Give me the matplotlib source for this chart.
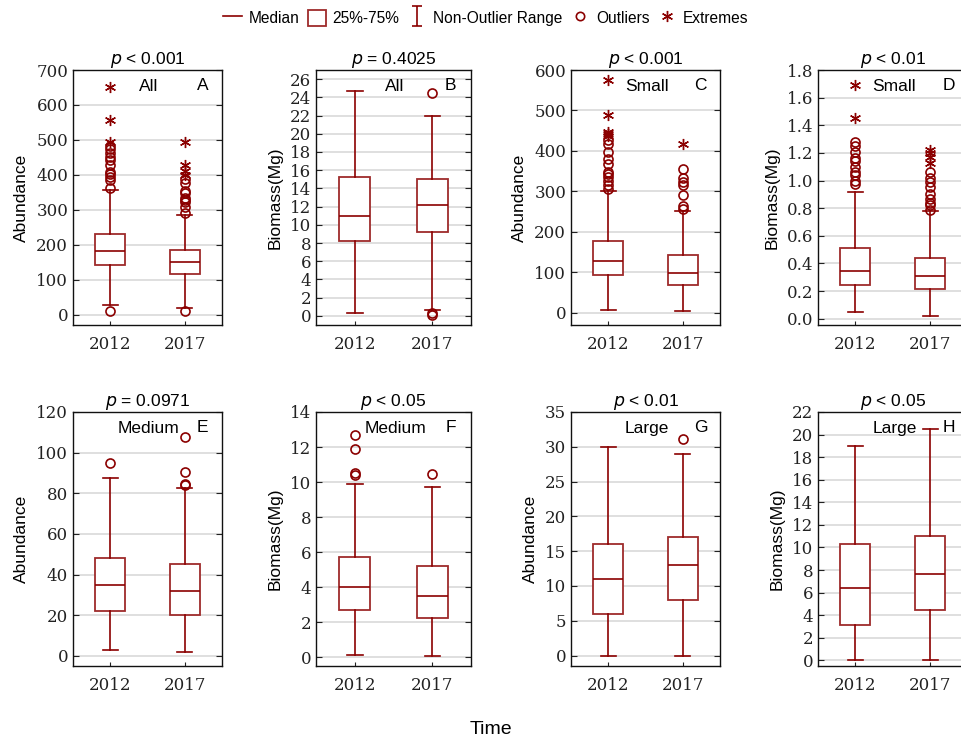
import matplotlib
matplotlib.use("Agg")
import matplotlib.pyplot as plt
from matplotlib.lines import Line2D
from matplotlib.patches import Patch
from matplotlib.path import Path
from matplotlib.ticker import FormatStrFormatter

plt.rcParams["font.family"] = ["Liberation Sans", "DejaVu Sans"]

RED = "#8b0000"
BOXRED = "#9e2b2b"
YEARS = ["2012", "2017"]

# per year: whisker low, q1, median, q3, whisker high
A_2012 = [27, 143, 181, 230, 357]
A_2017 = [19, 116, 149, 184, 284]
A_OUT = ([11, 363, 385, 395, 402, 408, 428, 443, 452, 462, 475, 482],
         [11, 292, 307, 321, 328, 335, 348, 355, 376, 388])
A_EXT = ([493, 558, 652], [398, 412, 427, 494])

B_2012 = [0.3, 8.25, 11.0, 15.3, 24.7]
B_2017 = [0.6, 9.2, 12.2, 15.0, 21.9]
B_OUT = ([], [0.1, 0.3, 24.5])
B_EXT = ([], [])

C_2012 = [7.5, 94, 128, 178, 300]
C_2017 = [4, 70, 99, 143, 252]
C_OUT = ([306, 316, 327, 335, 343, 349, 368, 381, 397, 416, 426],
         [257, 265, 290, 315, 323, 333, 356])
C_EXT = ([436, 441, 447, 490, 575], [416])

D_2012 = [0.049, 0.241, 0.348, 0.514, 0.916]
D_2017 = [0.017, 0.219, 0.307, 0.441, 0.777]
D_OUT = ([0.977, 1.0, 1.04, 1.06, 1.10, 1.14, 1.16, 1.21, 1.25, 1.28],
         [0.79, 0.82, 0.84, 0.87, 0.90, 0.95, 0.99, 1.02, 1.06])
D_EXT = ([1.45, 1.69], [1.13, 1.17, 1.20, 1.22])

E_2012 = [3.1, 22.3, 34.8, 48.1, 87.3]
E_2017 = [2.1, 20.0, 31.7, 45.1, 82.4]
E_OUT = ([94.7], [84, 84.6, 90.5, 107.7])
E_EXT = ([], [])

F_2012 = [0.1, 2.68, 4.03, 5.70, 9.9]
F_2017 = [0.06, 2.22, 3.5, 5.22, 9.69]
F_OUT = ([10.42, 10.5, 11.9, 12.7], [10.45])
F_EXT = ([], [])

G_2012 = [0, 6, 11, 16, 30]
G_2017 = [0, 8, 13, 17, 29]
G_OUT = ([], [31.1])
G_EXT = ([], [])

H_2012 = [0, 3.14, 6.45, 10.3, 19.0]
H_2017 = [0, 4.5, 7.69, 11.05, 20.5]
H_OUT = ([], [])
H_EXT = ([], [])

PANELS = [
    # stats, outliers, extremes, ylim, ytick step, ylabel, title, group, letter, fmt
    ((A_2012, A_2017), A_OUT, A_EXT, (-30, 700), 100, "Abundance", "< 0.001", "All", "A", "%d"),
    ((B_2012, B_2017), B_OUT, B_EXT, (-1, 27), 2, "Biomass(Mg)", "= 0.4025", "All", "B", "%d"),
    ((C_2012, C_2017), C_OUT, C_EXT, (-30, 600), 100, "Abundance", "< 0.001", "Small", "C", "%d"),
    ((D_2012, D_2017), D_OUT, D_EXT, (-0.045, 1.8), 0.2, "Biomass(Mg)", "< 0.01", "Small", "D", "%.1f"),
    ((E_2012, E_2017), E_OUT, E_EXT, (-5, 120), 20, "Abundance", "= 0.0971", "Medium", "E", "%d"),
    ((F_2012, F_2017), F_OUT, F_EXT, (-0.5, 14), 2, "Biomass(Mg)", "< 0.05", "Medium", "F", "%d"),
    ((G_2012, G_2017), G_OUT, G_EXT, (-1.5, 35), 5, "Abundance", "< 0.01", "Large", "G", "%d"),
    ((H_2012, H_2017), H_OUT, H_EXT, (-0.5, 22), 2, "Biomass(Mg)", "< 0.05", "Large", "H", "%d"),
]

W, H = 962, 740
COL_LEFT = [73, 316, 571, 818]
COL_W = [149, 155, 149, 150]
ROW_TOP = [70, 412]
ROW_H = [255, 254]

fig = plt.figure(figsize=(W / 100, H / 100), dpi=100)

ASTER = (6, 2, 0)

for i, (stats, out, ext, ylim, step, ylab, ptxt, group, letter, fmt) in enumerate(PANELS):
    r, c = divmod(i, 4)
    ax = fig.add_axes([COL_LEFT[c] / W, 1 - (ROW_TOP[r] + ROW_H[r]) / H,
                       COL_W[c] / W, ROW_H[r] / H])
    bx = []
    for s, o in zip(stats, out):
        lo, q1, med, q3, hi = s
        bx.append(dict(whislo=lo, q1=q1, med=med, q3=q3, whishi=hi, fliers=o))
    ax.bxp(bx, positions=[1, 2], widths=0.4, capwidths=0.2, patch_artist=True,
           boxprops=dict(facecolor="white", edgecolor=BOXRED, lw=1.3),
           medianprops=dict(color=RED, lw=1.2),
           whiskerprops=dict(color=RED, lw=1.2),
           capprops=dict(color=RED, lw=1.2),
           flierprops=dict(marker="o", mfc="none", mec=RED, ms=6.5, mew=1.2),
           zorder=3)
    for pos, e in zip([1, 2], ext):
        if e:
            ax.plot([pos] * len(e), e, ls="none", marker=ASTER, color=RED,
                    ms=8, mew=1.0, zorder=4)
    ax.set_xlim(0.5, 2.5)
    ax.set_ylim(*ylim)
    n = int(ylim[1] / step + 1e-6)
    ax.set_yticks([k * step for k in range(n + 1)])
    ax.yaxis.set_major_formatter(FormatStrFormatter(fmt))
    ax.set_xticks([1, 2])
    ax.set_xticklabels(YEARS)
    ax.tick_params(axis="y", direction="in", left=True, right=True, length=4,
                   labelsize=12, labelfontfamily="DejaVu Serif", colors="#222222")
    ax.tick_params(axis="x", direction="in", top=False, length=3, pad=8,
                   labelsize=12, labelfontfamily="DejaVu Serif", colors="#222222")
    ax.yaxis.grid(True, color="#dcdcdc", lw=1.3)
    ax.set_axisbelow(True)
    for sp in ax.spines.values():
        sp.set_color("#111111")
        sp.set_linewidth(1.0)
    ax.set_ylabel(ylab, fontsize=12.5, labelpad=5)
    ax.set_title(r"$\it{p}$ " + ptxt, fontsize=12.5, pad=4)
    ax.text(0.51, 0.965, group, transform=ax.transAxes, ha="center", va="top", fontsize=12.5)
    ax.text(0.87, 0.97, letter, transform=ax.transAxes, ha="center", va="top", fontsize=12.5)

# legend
ibeam = Path([(-0.5, -1), (0.5, -1), (0, -1), (0, 1), (-0.5, 1), (0.5, 1)],
             [Path.MOVETO, Path.LINETO, Path.MOVETO, Path.LINETO, Path.MOVETO, Path.LINETO])
handles = [
    Line2D([], [], color=RED, lw=1.2),
    Patch(facecolor="white", edgecolor=BOXRED, lw=1.3),
    Line2D([], [], ls="none", marker=ibeam, color=RED, ms=14, mew=1.2),
    Line2D([], [], ls="none", marker="o", mfc="none", mec=RED, ms=6, mew=1.2),
    Line2D([], [], ls="none", marker=ASTER, color=RED, ms=8, mew=1.0),
]
labels = ["Median", "25%-75%", "Non-Outlier Range", "Outliers", "Extremes"]
fig.legend(handles, labels, loc="upper center", bbox_to_anchor=(0.505, 1.006), ncol=5,
           frameon=False, fontsize=11.2, handlelength=1.2, handletextpad=0.4,
           columnspacing=0.55, handleheight=1.2)

fig.text(0.51, 0.003, "Time", ha="center", va="bottom", fontsize=14)

fig.savefig("out.png", dpi=100)
